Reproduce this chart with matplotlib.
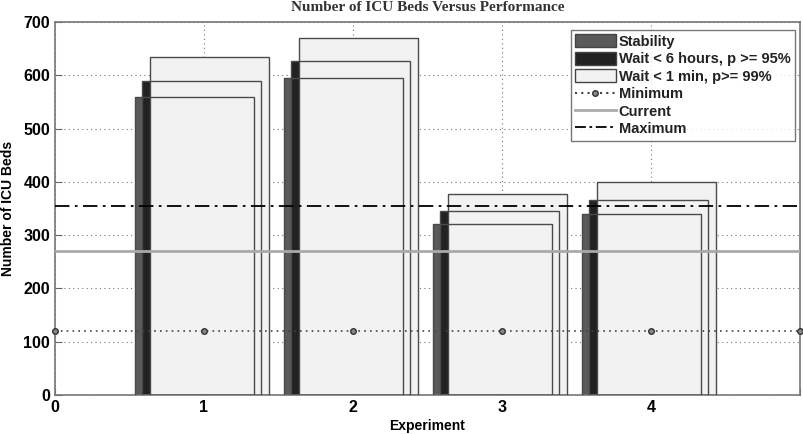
import numpy as np
import matplotlib
matplotlib.use("Agg")
import matplotlib.pyplot as plt
from matplotlib.patches import Patch
from matplotlib.lines import Line2D

experiments = [1, 2, 3, 4]
stability = [560, 595, 320, 340]
wait_6h = [590, 627, 345, 365]
wait_1min = [635, 670, 378, 400]
minimum = 120
current = 270
maximum = 355
min_x = [0, 1, 2, 3, 4, 5]

plt.rcParams["font.family"] = ["Liberation Sans", "DejaVu Sans"]

fig = plt.figure(figsize=(8.04, 4.34), dpi=100)
ax = fig.add_axes([0.0684, 0.0899, 0.9266, 0.8595])

x = np.array(experiments, dtype=float)
width = 0.8
series = [
    (stability, -0.065, "#5a5a5a", "Stability"),
    (wait_6h, -0.015, "#222222", "Wait < 6 hours, p >= 95%"),
    (wait_1min, 0.035, "#f2f2f2", "Wait < 1 min, p>= 99%"),
]
# fills first, then all edges on top (like the original print)
for vals, off, col, lab in series:
    ax.bar(x + off, vals, width, color=col, edgecolor="none", zorder=2)
for vals, off, col, lab in series:
    ax.bar(x + off, vals, width, fill=False, edgecolor="#4a4a4a",
           linewidth=1.0, zorder=3)

ax.plot(min_x, [minimum] * len(min_x), linestyle=(0, (1, 2.5)), color="#444444",
        marker="o", markersize=4, markerfacecolor="#888888",
        markeredgecolor="#333333", linewidth=1.2, zorder=4, clip_on=False)
ax.axhline(current, color="#aaaaaa", linewidth=2, zorder=4)
ax.axhline(maximum, color="black", linestyle=(0, (8, 3, 1.5, 3)),
           linewidth=1.3, zorder=4)

ax.set_xlim(0, 5)
ax.set_ylim(0, 700)
ax.set_xticks([0, 1, 2, 3, 4, 5])
ax.set_xticklabels(["0", "1", "2", "3", "4", ""])
ax.set_yticks(range(0, 701, 100))
ax.grid(True, linestyle=(0, (1, 3)), color="#777777", linewidth=0.8, zorder=0)
ax.set_axisbelow(True)
ax.tick_params(direction="in", labelsize=11.5, length=5, color="#666666")
for lab in ax.get_xticklabels() + ax.get_yticklabels():
    lab.set_fontweight("bold")
for sp in ax.spines.values():
    sp.set_color("#777777")
    sp.set_linewidth(1.2)

ax.set_xlabel("Experiment", fontsize=10, fontweight="bold", labelpad=3)
ax.set_ylabel("Number of ICU Beds", fontsize=10, fontweight="bold", labelpad=6)
ax.set_title("Number of ICU Beds Versus Performance", fontsize=11,
             fontweight="bold", family=["Liberation Serif", "DejaVu Serif"],
             pad=8, color="#333333")

handles = [
    Patch(facecolor="#5a5a5a", edgecolor="#444444"),
    Patch(facecolor="#222222", edgecolor="#444444"),
    Patch(facecolor="#f2f2f2", edgecolor="#444444"),
    Line2D([], [], linestyle=(0, (1, 2)), color="#444444", marker="o",
           markersize=4, markerfacecolor="#888888", markeredgecolor="#333333"),
    Line2D([], [], color="#aaaaaa", linewidth=2),
    Line2D([], [], color="black", linestyle=(0, (6, 2, 1.5, 2)), linewidth=1.3),
]
labels = ["Stability", "Wait < 6 hours, p >= 95%", "Wait < 1 min, p>= 99%",
          "Minimum", "Current", "Maximum"]
leg = ax.legend(handles, labels, loc="upper right", bbox_to_anchor=(0.999, 0.99),
                fontsize=10.5, frameon=True, fancybox=False, borderpad=0.3,
                labelspacing=0.2, handlelength=2.8, handleheight=1.0,
                handletextpad=0.2, borderaxespad=0.3)
leg.get_frame().set_edgecolor("#555555")
leg.get_frame().set_linewidth(1.0)
for t in leg.get_texts():
    t.set_fontweight("bold")
    t.set_color("#222222")

fig.savefig("out.png", dpi=100)
